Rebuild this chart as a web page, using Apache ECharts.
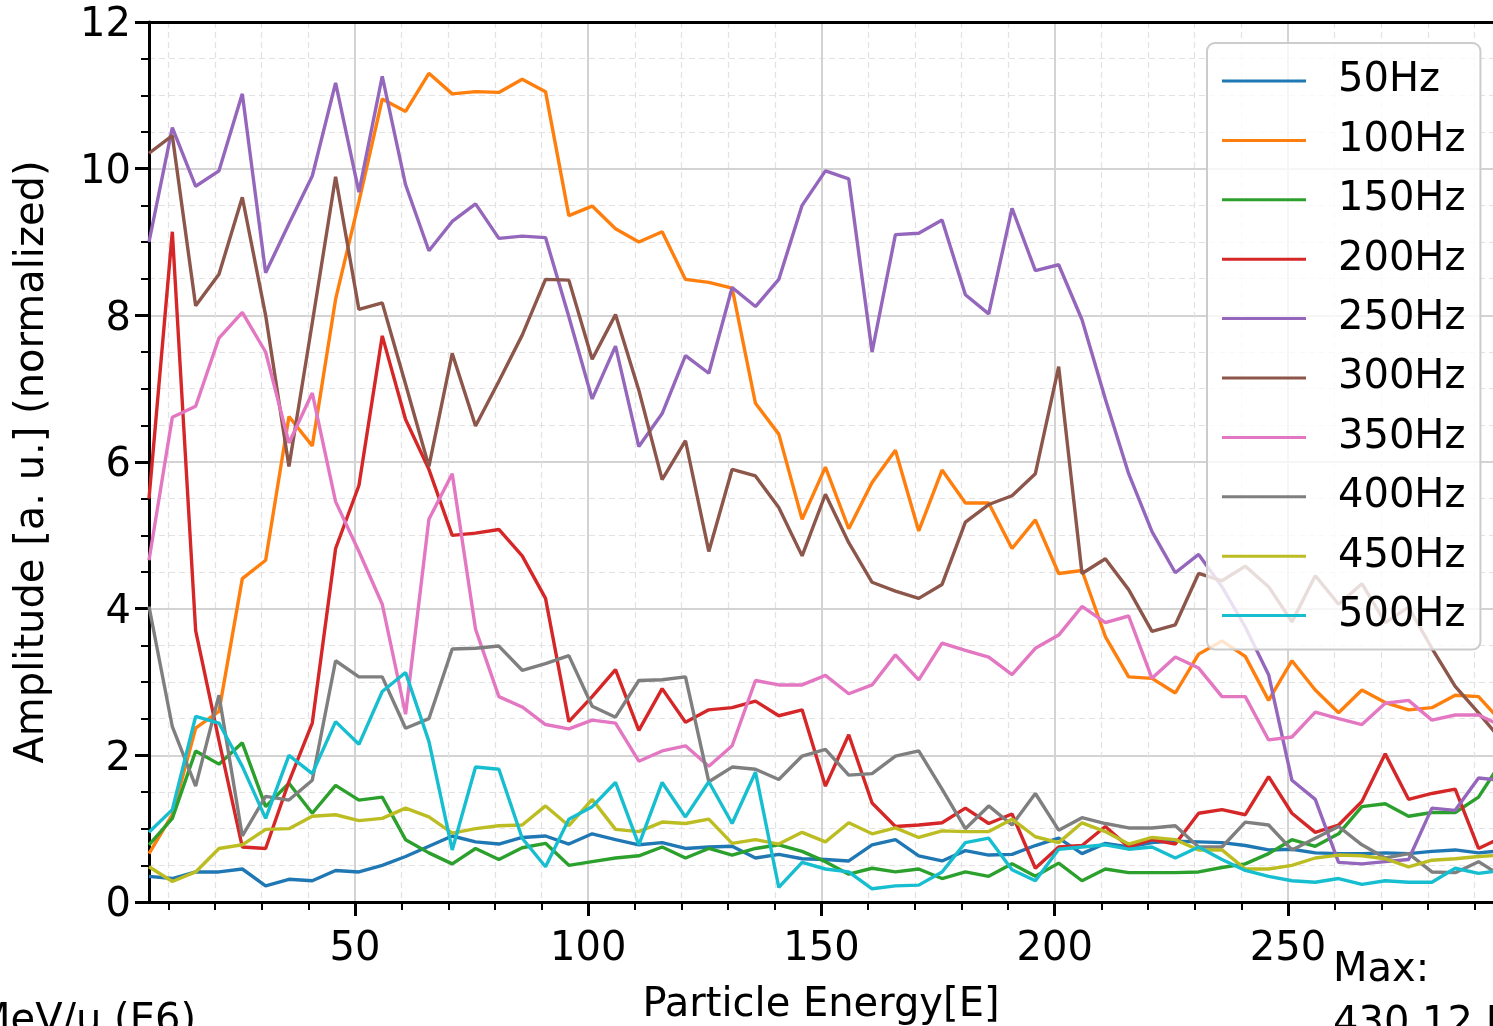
<!DOCTYPE html>
<html>
<head>
<meta charset="utf-8">
<script src="https://cdn.jsdelivr.net/npm/echarts@6/dist/echarts.min.js"></script>
<style>
html,body{margin:0;padding:0;background:#fff;}
#chart{width:1493px;height:1026px;}
</style>
</head>
<body>
<div id="chart"></div>
<script>
// Particle energies of the sample points (x positions)
const energies = [5.85,10.85,15.85,20.85,25.85,30.85,35.85,40.85,45.85,50.85,
  55.85,60.85,65.85,70.85,75.85,80.85,85.85,90.85,95.85,100.85,
  105.85,110.85,115.85,120.85,125.85,130.85,135.85,140.85,145.85,
  150.85,155.85,160.85,165.85,170.85,175.85,180.85,185.85,190.85,195.85,
  200.85,205.85,210.85,215.85,220.85,225.85,230.85,235.85,240.85,245.85,
  250.85,255.85,260.85,265.85,270.85,275.85,280.85,285.85,290.85,295.85];

const seriesNames = ['50Hz','100Hz','150Hz','200Hz','250Hz','300Hz','350Hz','400Hz','450Hz','500Hz'];

const hz50 = [0.35,0.32,0.41,0.41,0.45,0.22,0.31,0.29,0.43,0.41,
  0.5,0.62,0.76,0.9,0.82,0.79,0.88,0.9,0.79,0.93,
  0.85,0.78,0.81,0.73,0.75,0.76,0.6,0.65,0.59,
  0.58,0.56,0.78,0.85,0.63,0.56,0.7,0.64,0.65,0.77,
  0.87,0.66,0.8,0.75,0.81,0.83,0.82,0.81,0.77,0.71,
  0.72,0.67,0.66,0.66,0.67,0.66,0.69,0.71,0.67,0.7];
const hz100 = [0.66,1.19,2.37,2.6,4.41,4.66,6.62,6.22,8.22,9.55,
  10.95,10.78,11.3,11.02,11.05,11.04,11.22,11.05,9.36,9.49,
  9.18,9.0,9.14,8.49,8.45,8.37,6.8,6.38,5.22,
  5.93,5.09,5.72,6.16,5.06,5.89,5.44,5.44,4.82,5.21,
  4.48,4.52,3.62,3.07,3.05,2.85,3.38,3.56,3.35,2.75,
  3.29,2.89,2.58,2.89,2.72,2.62,2.65,2.82,2.8,2.45];
const hz150 = [0.78,1.14,2.06,1.88,2.17,1.3,1.62,1.21,1.59,1.39,
  1.43,0.85,0.67,0.52,0.73,0.58,0.74,0.8,0.5,0.55,
  0.6,0.63,0.75,0.6,0.73,0.64,0.73,0.78,0.69,
  0.55,0.38,0.46,0.41,0.45,0.32,0.41,0.35,0.52,0.35,
  0.53,0.29,0.45,0.4,0.4,0.4,0.41,0.47,0.52,0.66,
  0.85,0.76,0.93,1.3,1.34,1.17,1.22,1.22,1.43,1.92];
const hz200 = [5.5,9.14,3.7,2.2,0.75,0.73,1.64,2.44,4.82,5.68,
  7.72,6.58,5.9,5.0,5.03,5.08,4.72,4.14,2.46,2.8,
  3.17,2.34,2.91,2.45,2.62,2.65,2.74,2.54,2.62,
  1.58,2.28,1.35,1.03,1.05,1.08,1.28,1.07,1.2,0.46,
  0.75,0.77,1.03,0.75,0.85,0.79,1.21,1.26,1.19,1.71,
  1.21,0.95,1.05,1.37,2.02,1.4,1.48,1.54,0.73,0.88];
const hz250 = [9.0,10.56,9.76,9.97,11.02,8.58,9.25,9.9,11.17,9.68,
  11.26,9.78,8.88,9.28,9.52,9.05,9.08,9.06,7.98,6.86,
  7.58,6.21,6.66,7.45,7.21,8.38,8.12,8.49,9.5,
  9.97,9.86,7.5,9.1,9.12,9.3,8.28,8.02,9.46,8.61,
  8.69,7.94,6.86,5.84,5.05,4.49,4.74,4.3,3.75,3.1,
  1.66,1.4,0.54,0.52,0.55,0.58,1.28,1.25,1.69,1.66];
const hz300 = [10.21,10.45,8.13,8.56,9.61,8.0,5.94,7.9,9.89,8.08,
  8.17,7.06,5.94,7.48,6.49,7.1,7.73,8.49,8.48,7.4,
  8.01,6.98,5.76,6.29,4.78,5.9,5.81,5.38,4.72,
  5.56,4.9,4.36,4.24,4.14,4.33,5.18,5.42,5.54,5.84,
  7.3,4.48,4.68,4.26,3.69,3.78,4.48,4.38,4.58,4.3,
  3.82,4.45,4.06,4.34,3.81,4.02,3.46,2.94,2.58,2.2];
const hz350 = [4.66,6.61,6.76,7.69,8.04,7.5,6.26,6.94,5.46,4.78,
  4.06,2.56,5.22,5.84,3.72,2.8,2.66,2.42,2.36,2.48,
  2.44,1.92,2.06,2.13,1.85,2.13,3.02,2.96,2.96,
  3.09,2.84,2.96,3.37,3.03,3.53,3.43,3.34,3.1,3.46,
  3.64,4.03,3.81,3.9,3.05,3.34,3.19,2.8,2.8,2.21,
  2.25,2.59,2.5,2.42,2.71,2.75,2.48,2.55,2.55,2.4];
const hz400 = [4.03,2.39,1.58,2.82,0.9,1.44,1.39,1.66,3.29,3.07,
  3.07,2.37,2.5,3.45,3.46,3.49,3.16,3.25,3.36,2.67,
  2.52,3.02,3.03,3.07,1.64,1.84,1.81,1.67,1.99,
  2.08,1.73,1.75,1.99,2.06,1.54,1.0,1.31,1.05,1.48,
  0.98,1.15,1.07,1.01,1.01,1.04,0.75,0.75,1.09,1.05,
  0.71,0.87,1.03,0.78,0.6,0.66,0.41,0.4,0.55,0.35];
const hz450 = [0.48,0.28,0.41,0.73,0.78,0.99,1.0,1.17,1.19,1.11,
  1.14,1.28,1.16,0.94,1.0,1.04,1.05,1.31,1.04,1.4,
  0.99,0.96,1.09,1.07,1.13,0.8,0.85,0.79,0.95,
  0.82,1.08,0.93,1.01,0.88,0.97,0.96,0.96,1.13,0.89,
  0.81,1.08,0.96,0.79,0.88,0.85,0.71,0.71,0.45,0.45,
  0.5,0.6,0.64,0.63,0.59,0.48,0.57,0.59,0.62,0.64];
const hz500 = [0.95,1.26,2.53,2.44,1.85,1.14,2.0,1.75,2.46,2.15,
  2.87,3.13,2.19,0.71,1.84,1.81,0.87,0.48,1.13,1.3,
  1.63,0.78,1.63,1.16,1.64,1.07,1.77,0.2,0.54,
  0.45,0.41,0.18,0.22,0.23,0.41,0.81,0.87,0.44,0.29,
  0.72,0.75,0.78,0.72,0.75,0.6,0.75,0.58,0.43,0.35,
  0.29,0.27,0.32,0.24,0.29,0.27,0.27,0.46,0.39,0.43];

const xMajorTicks = [50,100,150,200,250];
const xMinorTicks = [10,20,30,40,60,70,80,90,110,120,130,140,160,170,180,190,210,220,230,240,260,270,280,290];

const allValues = [hz50,hz100,hz150,hz200,hz250,hz300,hz350,hz400,hz450,hz500];
const colors = ['#1f77b4','#ff7f0e','#2ca02c','#d62728','#9467bd','#8c564b','#e377c2','#7f7f7f','#bcbd22','#17becf'];

const FONT = '"DejaVu Sans", sans-serif';
const xMin = 5.85, xMax = 293.95;

const chart = echarts.init(document.getElementById('chart'), null, {renderer:'canvas'});

const series = seriesNames.map((name, i) => ({
  name: name,
  type: 'line',
  xAxisIndex: 0,
  data: energies.map((e, j) => [e, allValues[i][j]]),
  showSymbol: false,
  symbol: 'none',
  clip: true,
  lineStyle: {color: colors[i], width: 3.4},
  itemStyle: {color: colors[i]},
  emphasis: {disabled: true}
}));

chart.setOption({
  animation: false,
  backgroundColor: '#ffffff',
  grid: {left: 149, top: 22, right: 0, bottom: 124, containLabel: false, outerBoundsMode: 'none'},
  xAxis: [
    {
      type: 'value', min: xMin, max: xMax, position: 'bottom',
      axisLine: {show: true, onZero: false, lineStyle: {color: '#000', width: 3}},
      axisTick: {show: true, customValues: xMinorTicks, length: 8, lineStyle: {color: '#000', width: 2}},
      axisLabel: {show: false},
      splitLine: {show: true, lineStyle: {color: '#e2e2e2', width: 1.2, type: [6, 4]}}
    },
    {
      type: 'value', min: xMin, max: xMax, position: 'bottom',
      axisLine: {show: false, onZero: false},
      axisTick: {show: true, customValues: xMajorTicks, length: 14, lineStyle: {color: '#000', width: 3}},
      axisLabel: {show: true, customValues: xMajorTicks, fontSize: 40, color: '#000', fontFamily: FONT, margin: 28},
      splitLine: {show: true, lineStyle: {color: '#d3d3d3', width: 2}},
      name: 'Particle Energy[E]', nameLocation: 'middle', nameGap: 84,
      nameTextStyle: {fontSize: 40, color: '#000', fontFamily: FONT}
    },
    {
      type: 'value', min: xMin, max: xMax, position: 'top',
      axisLine: {show: true, onZero: false, lineStyle: {color: '#000', width: 3}},
      axisTick: {show: false}, axisLabel: {show: false}, splitLine: {show: false}
    }
  ],
  yAxis: {
    type: 'value', min: 0, max: 12, interval: 2,
    axisLine: {show: true, lineStyle: {color: '#000', width: 3}},
    axisTick: {show: true, length: 14, lineStyle: {color: '#000', width: 3}},
    minorTick: {show: true, splitNumber: 4, length: 8, lineStyle: {color: '#000', width: 2}},
    axisLabel: {
      fontSize: 40, color: '#000', fontFamily: FONT, margin: 18,
      formatter: '{v|{value}}',
      rich: {v: {fontSize: 40, color: '#000', fontFamily: FONT, lineHeight: 40, padding: [8, 0, 0, 0]}}
    },
    splitLine: {show: true, lineStyle: {color: '#d3d3d3', width: 2}},
    minorSplitLine: {show: true, lineStyle: {color: '#e2e2e2', width: 1.2, type: [6, 4]}},
    name: 'Amplitude [a. u.] (normalized)', nameLocation: 'middle', nameGap: 96,
    nameTextStyle: {fontSize: 40, color: '#000', fontFamily: FONT}
  },
  legend: {
    orient: 'vertical', left: 1207, top: 43,
    icon: 'rect', itemWidth: 84, itemHeight: 3, itemGap: 15.4,
    padding: [16, 15, 12, 15],
    backgroundColor: 'rgba(255,255,255,0.8)', borderColor: '#cccccc', borderWidth: 2, borderRadius: 8,
    textStyle: {fontSize: 40, color: '#000', fontFamily: FONT, lineHeight: 44, padding: [0, 0, 0, 27]},
    data: seriesNames,
    selectedMode: false
  },
  graphic: [
    {type: 'text', x: 196, y: 1022, style: {text: 'MeV/u (E6)', font: '40px "DejaVu Sans"', fill: '#000', align: 'right', verticalAlign: 'middle'}},
    {type: 'text', x: 1333, y: 971, style: {text: 'Max:', font: '40px "DejaVu Sans"', fill: '#000', align: 'left', verticalAlign: 'middle'}},
    {type: 'text', x: 1333, y: 1025, style: {text: '430.12 MeV/u (E6)', font: '40px "DejaVu Sans"', fill: '#000', align: 'left', verticalAlign: 'middle'}}
  ],
  series: series
});
</script>
</body>
</html>
